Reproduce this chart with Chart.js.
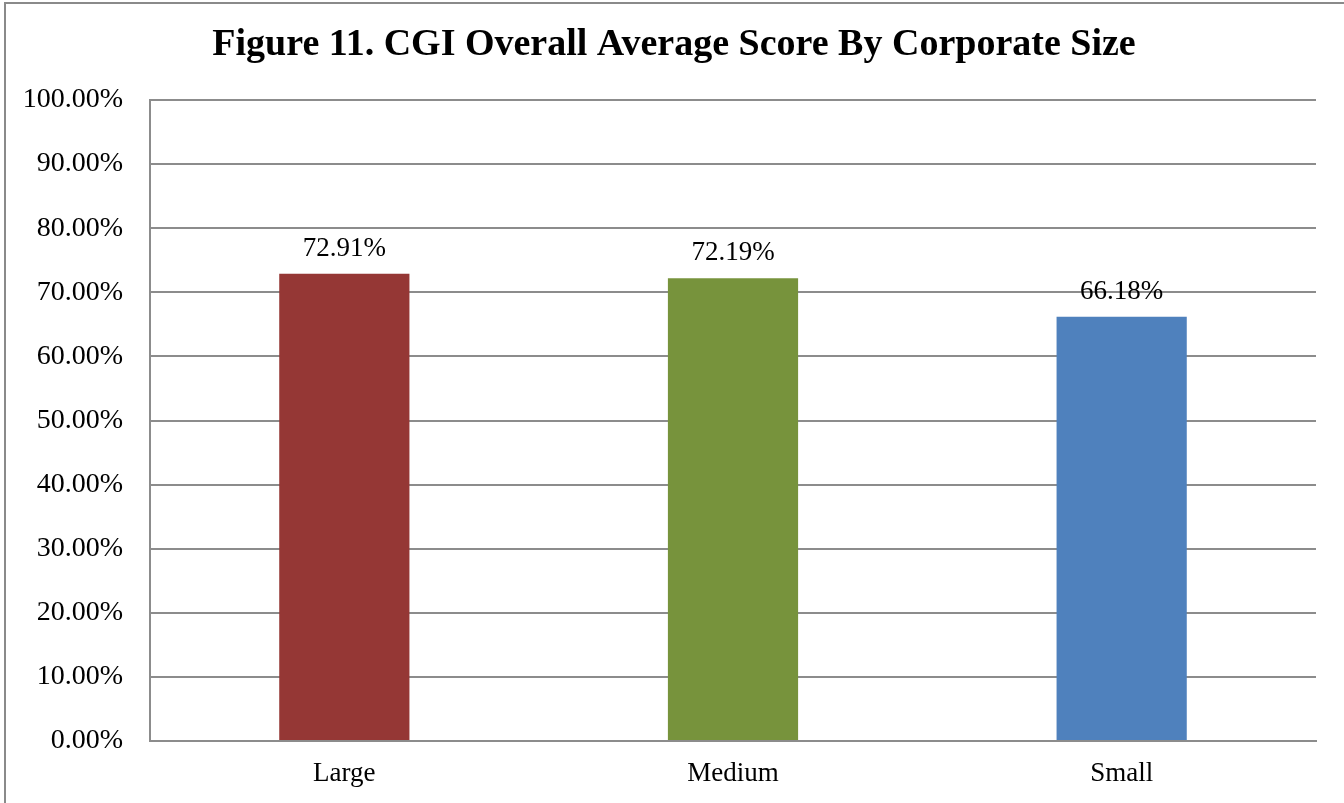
<!DOCTYPE html>
<html>
<head>
<meta charset="utf-8">
<script src="https://cdn.jsdelivr.net/npm/chart.js@4/dist/chart.umd.min.js"></script>
<style>
  html, body { margin: 0; padding: 0; background: #fff; }
  #frame { position: absolute; left: 4px; top: 2px; width: 1340px; height: 801px;
           border-left: 2px solid #8a8a8a; border-top: 2px solid #8a8a8a; box-sizing: border-box; }
  #wrap { position: absolute; left: 0; top: 0; width: 1344px; height: 803px; }
</style>
</head>
<body>
<div id="frame"></div>
<div id="wrap"><canvas id="myChart"></canvas></div>
<script>
const sizeLabels = ['Large', 'Medium', 'Small']
const avgScores = [0.7291, 0.7219, 0.6618]
const barColors = ['#953735', '#77933C', '#4F81BD']
const yTicks = [0, 0.1, 0.2, 0.3, 0.4, 0.5, 0.6, 0.7, 0.8, 0.9, 1.0]

const serif = "'Liberation Serif', 'DejaVu Serif', serif"
const gridGrey = '#8c8c8c'

// values printed above each bar
const barValueLabels = {
  id: 'barValueLabels',
  afterDatasetsDraw(chart) {
    const ctx = chart.ctx
    const meta = chart.getDatasetMeta(0)
    ctx.save()
    ctx.font = '27px ' + serif
    ctx.fillStyle = '#000'
    ctx.textAlign = 'center'
    ctx.textBaseline = 'alphabetic'
    meta.data.forEach((bar, i) => {
      ctx.fillText((avgScores[i] * 100).toFixed(2) + '%', bar.x, bar.y - 18)
    })
    ctx.restore()
  }
}

var ctx = document.getElementById('myChart').getContext('2d');
var myChart = new Chart(ctx, {
  type: 'bar',
  data: {
    labels: sizeLabels,
    datasets: [{
      data: avgScores,
      backgroundColor: barColors,
      borderWidth: 0,
      barPercentage: 0.335,
      categoryPercentage: 1
    }]
  },
  options: {
    responsive: true,
    maintainAspectRatio: false,
    animation: false,
    layout: { padding: { top: 22, right: 0, bottom: 0, left: 4 } },
    plugins: {
      legend: { display: false },
      tooltip: { enabled: false },
      title: {
        display: true,
        text: 'Figure 11. CGI Overall Average Score By Corporate Size',
        color: '#000',
        font: { family: serif, size: 38, weight: 'bold' },
        padding: { top: 0, bottom: 32.4 }
      }
    },
    scales: {
      x: {
        afterFit(scale) { scale.height = 62 },
        grid: { display: false, drawTicks: false },
        border: { display: true, color: gridGrey, width: 2 },
        ticks: { color: '#000', font: { family: serif, size: 27 }, padding: 17 }
      },
      y: {
        min: 0,
        max: 1,
        afterBuildTicks(scale) {
          scale.ticks = yTicks.map(v => ({ value: v }))
        },
        afterFit(scale) { scale.width = 146 },
        grid: { color: gridGrey, lineWidth: 2, drawTicks: false },
        border: { display: true, color: gridGrey, width: 2 },
        ticks: {
          color: '#000',
          font: { family: serif, size: 28 },
          padding: 27,
          callback: v => (v * 100).toFixed(2) + '%'
        }
      },
      // empty strip on the right, like the original margin
      gap: {
        position: 'right',
        afterFit(scale) { scale.width = 28 },
        grid: { display: false, drawTicks: false },
        border: { display: false },
        ticks: { display: false }
      }
    }
  },
  plugins: [barValueLabels]
});
</script>
</body>
</html>
